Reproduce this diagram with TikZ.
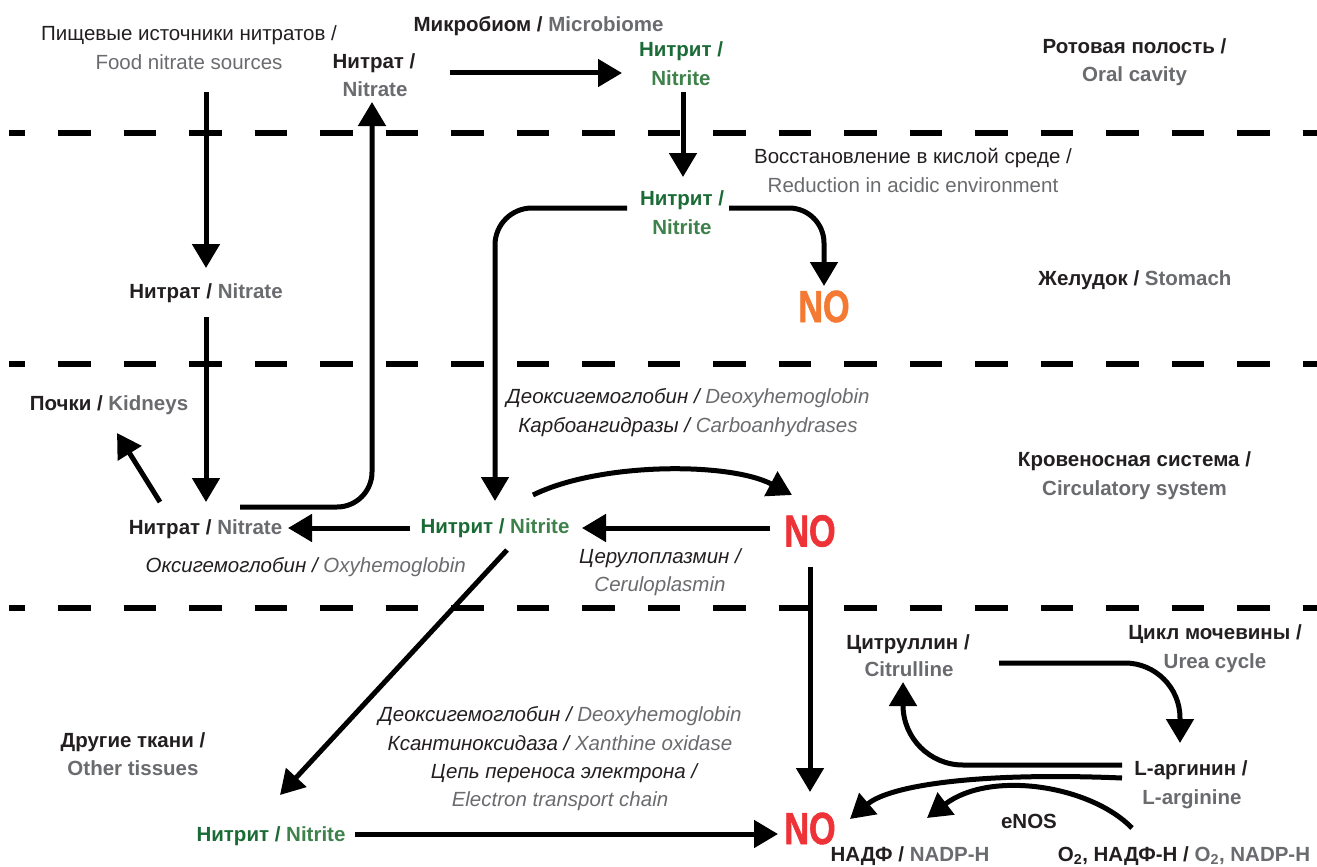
\documentclass[tikz,border=0pt]{standalone}
\usepackage{fontspec}
\setmainfont{Liberation Sans}
\newfontfamily\nofont{Liberation Sans}[FakeStretch=0.76, FakeBold=1.2]
\usetikzlibrary{arrows.meta}
\definecolor{ink}{HTML}{231F20}
\definecolor{gry}{HTML}{6A6B6E}
\definecolor{gdk}{HTML}{1B6B37}
\definecolor{glt}{HTML}{3F814B}
\definecolor{nora}{HTML}{F47A33}
\definecolor{nored}{HTML}{EE3338}
\newcommand{\gr}[1]{\textcolor{gry}{#1}}
\tikzset{
 lbl/.style={anchor=base, inner sep=0pt, outer sep=0pt, text=ink, font=\fontsize{20.5}{24}\selectfont},
 bl/.style={lbl, font=\fontsize{20.5}{24}\selectfont\bfseries},
 itl/.style={lbl, font=\fontsize{20.5}{24}\selectfont\itshape},
 nobig/.style={anchor=base, inner sep=0pt, outer sep=0pt, font=\fontsize{45}{50}\selectfont\nofont\bfseries},
 arr/.style={draw=black, line width=5pt, -{Triangle[length=24pt,width=27pt]}},
 sepdash/.style={draw=black, line width=6pt, dash pattern=on 32.5pt off 33pt, dash phase=16.5pt},
}
\begin{document}
\begin{tikzpicture}[x=1pt,y=-1pt]
\useasboundingbox (0,0) rectangle (1317,867);

% separators
\foreach \yy in {133,364,607.5}{
  \draw[sepdash] (9,\yy) -- (1317,\yy);
}

% ---- oral cavity
\node[lbl] (food1) at (189,40.7) {Пищевые источники нитратов /};
\node[lbl] (food2) at (189,70) {\gr{Food nitrate sources}};
\node[bl] (natO1) at (374,68) {Нитрат /};
\node[bl] (natO2) at (375,96.5) {\gr{Nitrate}};
\node[bl] (micro) at (538.5,31.7) {Микробиом / \gr{Microbiome}};
\node[bl,text=gdk] (nitO1) at (681,56.7) {Нитрит /};
\node[bl,text=glt] (nitO2) at (681,85) {Nitrite};
\node[bl] (oral1) at (1134.5,53.3) {Ротовая полость /};
\node[bl] (oral2) at (1134.5,81.7) {\gr{Oral cavity}};

% ---- stomach
\node[lbl] (red1) at (913,163.3) {Восстановление в кислой среде /};
\node[lbl] (red2) at (913,192.3) {\gr{Reduction in acidic environment}};
\node[bl,text=gdk] (nitS1) at (682,205) {Нитрит /};
\node[bl,text=glt] (nitS2) at (682,234) {Nitrite};
\node[nobig,text=nora] (noS) at (824,322) {NO};
\node[bl] (stom) at (1135,285) {Желудок / \gr{Stomach}};
\node[bl] (natS) at (206,298) {Нитрат / \gr{Nitrate}};

% ---- circulatory
\node[bl] (kid) at (109,410.7) {Почки / \gr{Kidneys}};
\node[itl] (deo1) at (688,403.3) {Деоксигемоглобин / \gr{Deoxyhemoglobin}};
\node[itl] (carb) at (688,432.7) {Карбоангидразы / \gr{Carboanhydrases}};
\node[bl] (circ1) at (1134.5,466) {Кровеносная система /};
\node[bl] (circ2) at (1134.5,495) {\gr{Circulatory system}};
\node[bl] (natB) at (205.5,534) {Нитрат / \gr{Nitrate}};
\node[bl] (nitB) at (495,533.5) {\textcolor{gdk}{Нитрит /} \textcolor{glt}{Nitrite}};
\node[nobig,text=nored] (noB) at (810,546.5) {NO};
\node[itl] (oxy) at (305.8,572.7) {Оксигемоглобин / \gr{Oxyhemoglobin}};
\node[itl] (cer1) at (660,563.3) {Церулоплазмин /};
\node[itl] (cer2) at (660,591.7) {\gr{Ceruloplasmin}};

% ---- other tissues
\node[bl] (cit1) at (908,649.3) {Цитруллин /};
\node[bl] (cit2) at (909,676.7) {\gr{Citrulline}};
\node[bl] (urea1) at (1215,639.3) {Цикл мочевины /};
\node[bl] (urea2) at (1215,668.3) {\gr{Urea cycle}};
\node[bl] (oth1) at (133,747) {Другие ткани /};
\node[bl] (oth2) at (133,775) {\gr{Other tissues}};
\node[itl] (deo2) at (560,721.7) {Деоксигемоглобин / \gr{Deoxyhemoglobin}};
\node[itl] (xan) at (560,750) {Ксантиноксидаза / \gr{Xanthine oxidase}};
\node[itl] (etc1) at (564,778.5) {Цепь переноса электрона /};
\node[itl] (etc2) at (560,806.7) {\gr{Electron transport chain}};
\node[bl] (nitT) at (271,841) {\textcolor{gdk}{Нитрит /} \textcolor{glt}{Nitrite}};
\node[nobig,text=nored] (noT) at (810,844) {NO};
\node[bl] (arg1) at (1191,775) {L-аргинин /};
\node[bl] (arg2) at (1192,804) {\gr{L-arginine}};
\node[bl] (enos) at (1029,828.3) {eNOS};
\node[bl] (nadp) at (910,861.7) {НАДФ / \gr{NADP-H}};
\node[bl] (otwo) at (1184,861.7) {O\textsubscript{2}, НАДФ-Н / \gr{O\textsubscript{2}, NADP-H}};

% ---- connector end points
\coordinate (foodOut) at (206,92);
\coordinate (natSin) at (206,268);
\coordinate (natSout) at (206,317);
\coordinate (natBin) at (206,502);
\coordinate (natBout) at (240,507);
\coordinate (natOin) at (372,102);
\coordinate (natOout) at (450,73);
\coordinate (nitOin) at (622,73);
\coordinate (nitOout) at (683,92);
\coordinate (nitSin) at (683,177);
\coordinate (nitSoutR) at (729,208);
\coordinate (noSin) at (824,286);
\coordinate (nitSoutL) at (627,208);
\coordinate (nitBinTop) at (495,501);
\coordinate (natBkid) at (160,502);
\coordinate (kidIn) at (117,433);
\coordinate (nitBoutL) at (410,528);
\coordinate (natBinR) at (288,528);
\coordinate (noBoutL) at (770,528);
\coordinate (nitBinR) at (582,528);
\coordinate (nitBoutUp) at (533,495);
\coordinate (noBin) at (792,495);
\coordinate (noBoutD) at (810,567);
\coordinate (noTinTop) at (810,792);
\coordinate (nitBoutD) at (507,550);
\coordinate (nitTin) at (280,795);
\coordinate (nitToutR) at (355,834);
\coordinate (noTinL) at (778,834);
\coordinate (citOut) at (999,663);
\coordinate (argIn) at (1180,743);
\coordinate (argOutC) at (1122,765);
\coordinate (citIn) at (903,682);
\coordinate (argOutN) at (1122,778);
\coordinate (noTinR) at (850,819);
\coordinate (otwoOut) at (1132,828);
\coordinate (nadpIn) at (927,818);

% ---- connectors
\draw[arr] (foodOut) -- (natSin);
\draw[arr] (natSout) -- (natBin);
\draw[arr, rounded corners=35pt] (natBout) -| (natOin);
\draw[arr] (natOout) -- (nitOin);
\draw[arr] (nitOout) -- (nitSin);
\draw[arr, rounded corners=35pt] (nitSoutR) -| (noSin);
\draw[arr, rounded corners=37pt] (nitSoutL) -| (nitBinTop);
\draw[arr] (natBkid) -- (kidIn);
\draw[arr] (nitBoutL) -- (natBinR);
\draw[arr] (noBoutL) -- (nitBinR);
\draw[arr] (nitBoutUp) .. controls (600,462) and (730,462) .. (noBin);
\draw[arr] (noBoutD) -- (noTinTop);
\draw[arr] (nitBoutD) -- (nitTin);
\draw[arr] (nitToutR) -- (noTinL);
\draw[arr, rounded corners=55pt] (citOut) -| (argIn);
\draw[arr, rounded corners=60pt] (argOutC) -| (citIn);
\draw[arr] (argOutN) .. controls (980,772) and (890,785) .. (noTinR);
\draw[arr] (otwoOut) .. controls (1090,785) and (990,770) .. (nadpIn);
\end{tikzpicture}
\end{document}
